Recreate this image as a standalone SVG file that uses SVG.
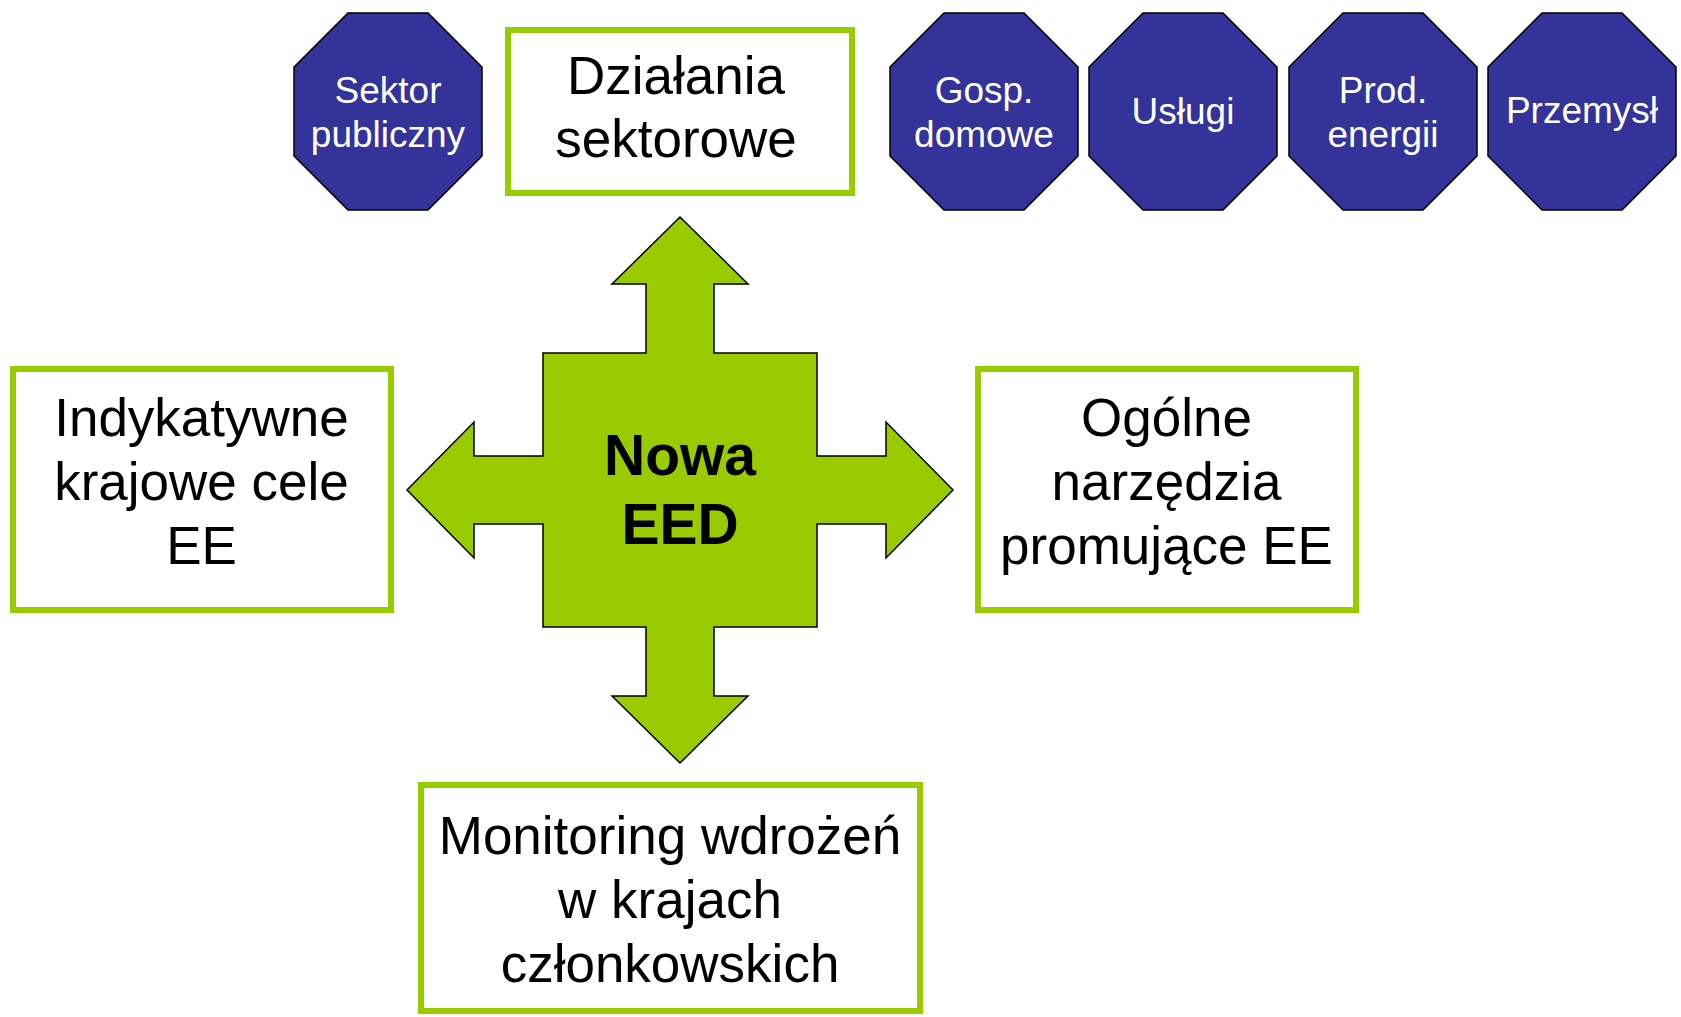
<svg xmlns="http://www.w3.org/2000/svg" xmlns:xlink="http://www.w3.org/1999/xlink" width="1681" height="1017" viewBox="0 0 1681 1017">
<style>
.oct{fill:#333399;stroke:#000;stroke-width:1.5}
.otx{font-family:"Liberation Sans",Arial,sans-serif;font-size:37px;fill:#fff;text-anchor:middle}
.box{fill:#fff;stroke:#99CC00;stroke-width:6}
.btx{font-family:"Liberation Sans",Arial,sans-serif;font-size:53px;fill:#000;text-anchor:middle}
.cross{fill:#99CC00;stroke:#000;stroke-width:1.5;stroke-linejoin:miter}
.ctx{font-family:"Liberation Sans",Arial,sans-serif;font-size:57px;font-weight:bold;fill:#000;text-anchor:middle}
</style>
<defs>
<polygon id="octShape" points="54,0 134,0 188,54 188,143 134,197 54,197 0,143 0,54"/>
</defs>
<rect width="1681" height="1017" fill="#fff"/>
<g id="connectors">
<g id="nowa-eed">
<polygon class="cross" points="680,217 748,284 714,284 714,353 817,353 817,456 886,456 886,422 953,490 886,558 886,524 817,524 817,627 714,627 714,696 748,696 680,763 612,696 646,696 646,627 543,627 543,524 474,524 474,558 407,490 474,422 474,456 543,456 543,353 646,353 646,284 612,284"/>
<text class="ctx" x="680" y="475">Nowa</text>
<text class="ctx" x="680" y="544">EED</text>
</g>
</g>
<g id="sektor-publiczny" transform="translate(294,13)">
<use xlink:href="#octShape" class="oct"/>
<text class="otx" x="94" y="90">Sektor</text>
<text class="otx" x="94" y="134">publiczny</text>
</g>
<g id="gosp-domowe" transform="translate(890,13)">
<use xlink:href="#octShape" class="oct"/>
<text class="otx" x="94" y="90">Gosp.</text>
<text class="otx" x="94" y="134">domowe</text>
</g>
<g id="uslugi" transform="translate(1089,13)">
<use xlink:href="#octShape" class="oct"/>
<text class="otx" x="94" y="111">Usługi</text>
</g>
<g id="prod-energii" transform="translate(1289,13)">
<use xlink:href="#octShape" class="oct"/>
<text class="otx" x="94" y="90">Prod.</text>
<text class="otx" x="94" y="134">energii</text>
</g>
<g id="przemysl" transform="translate(1488,13)">
<use xlink:href="#octShape" class="oct"/>
<text class="otx" x="94" y="110">Przemysł</text>
</g>
<g id="dzialania-sektorowe">
<rect class="box" x="508" y="30" width="344" height="163"/>
<text class="btx" x="676" y="94">Działania</text>
<text class="btx" x="676" y="157">sektorowe</text>
</g>
<g id="indykatywne-cele">
<rect class="box" x="13" y="369" width="378" height="241"/>
<text class="btx" x="201.5" y="436">Indykatywne</text>
<text class="btx" x="201.5" y="500">krajowe cele</text>
<text class="btx" x="201.5" y="564">EE</text>
</g>
<g id="ogolne-narzedzia">
<rect class="box" x="978" y="369" width="378" height="241"/>
<text class="btx" x="1166.5" y="436">Ogólne</text>
<text class="btx" x="1166.5" y="500">narzędzia</text>
<text class="btx" x="1166.5" y="564">promujące EE</text>
</g>
<g id="monitoring">
<rect class="box" x="421" y="785" width="499" height="226"/>
<text class="btx" x="670" y="854">Monitoring wdrożeń</text>
<text class="btx" x="670" y="918">w krajach</text>
<text class="btx" x="670" y="982">członkowskich</text>
</g>
</svg>
